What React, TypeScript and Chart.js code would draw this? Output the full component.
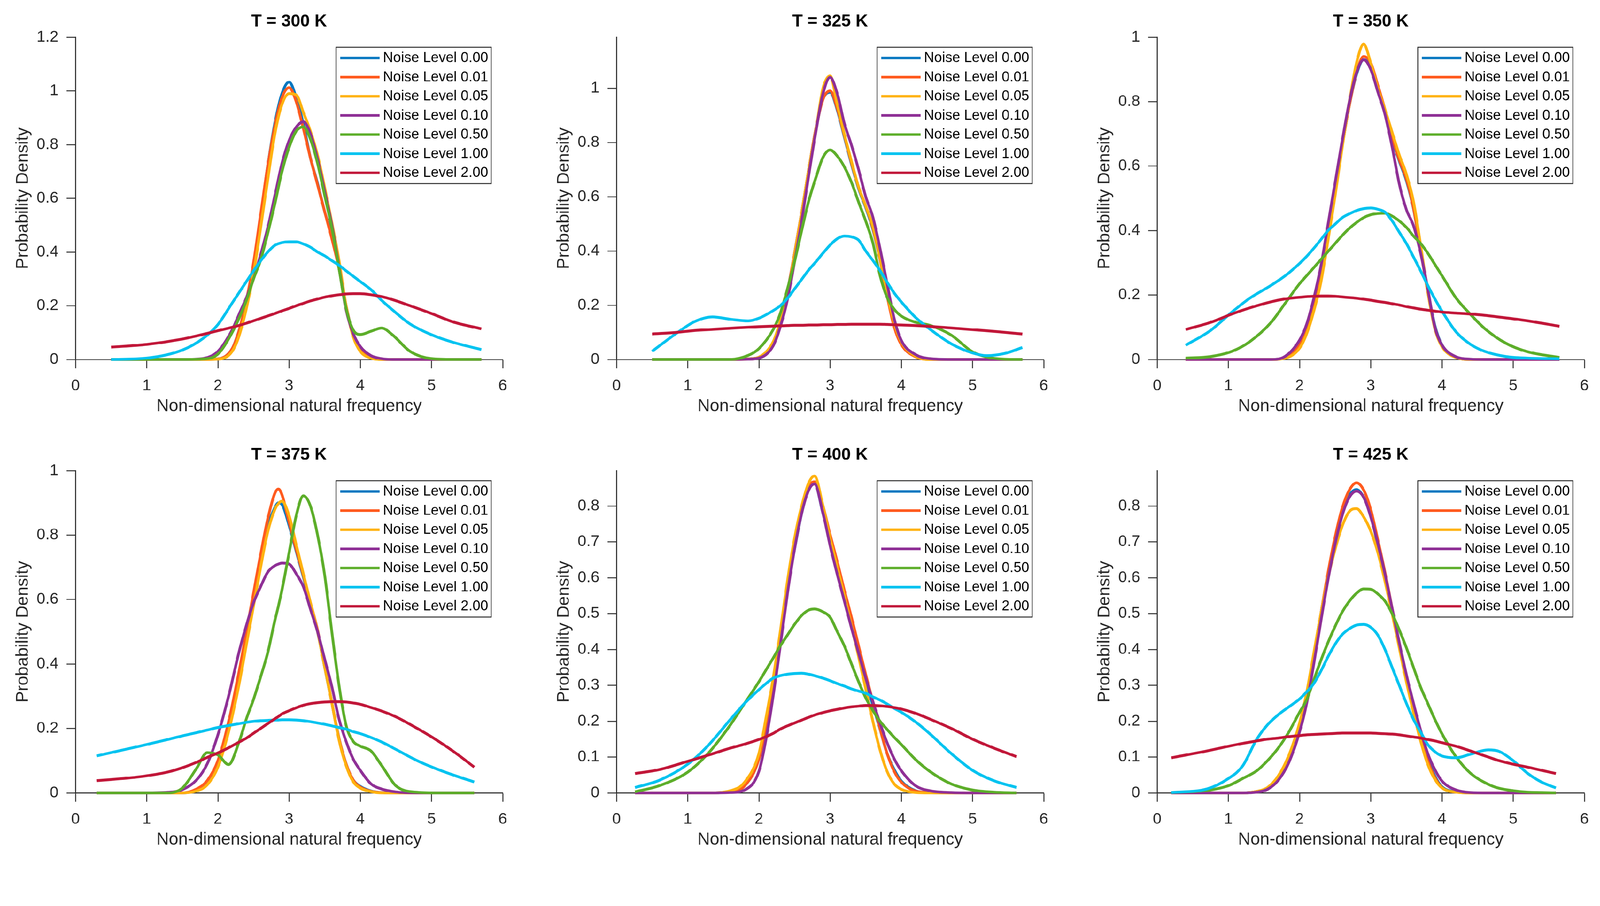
import React, { useEffect, useRef } from 'react';
import { Chart, registerables } from 'chart.js';

Chart.register(...registerables);

// ---------- labels / styles ----------
const seriesLabels = [
  'Noise Level 0.00',
  'Noise Level 0.01',
  'Noise Level 0.05',
  'Noise Level 0.10',
  'Noise Level 0.50',
  'Noise Level 1.00',
  'Noise Level 2.00',
];
const seriesColors = ['#0677C0', '#FF5B1F', '#FFB210', '#8F3096', '#5DAE2A', '#00C3F0', '#C11739'];
const panelTitles = ['T = 300 K', 'T = 325 K', 'T = 350 K', 'T = 375 K', 'T = 400 K', 'T = 425 K'];
const yMaxes = [1.2, 1.188, 1.0, 1.0, 0.899, 0.899];
const ySteps = [0.2, 0.2, 0.2, 0.2, 0.1, 0.1];
const xLabel = 'Non-dimensional natural frequency';
const yLabel = 'Probability Density';

// ---------- T = 300 K ----------
const x300 = [0.5, 1.0, 1.5, 1.8, 2.0, 2.2, 2.3, 2.4, 2.5, 2.6, 2.7, 2.8, 2.9, 3.0, 3.1, 3.2, 3.3, 3.4, 3.5, 3.6, 3.7, 3.8, 3.9, 4.0, 4.15, 4.3, 4.45, 4.7, 5.0, 5.3, 5.7];
const t300_n000 = [0, 0, 0, 0, 0.002, 0.04, 0.11, 0.21, 0.35, 0.53, 0.72, 0.88, 0.99, 1.033, 0.975, 0.876, 0.75, 0.655, 0.55, 0.46, 0.34, 0.2, 0.09, 0.035, 0.006, 0, 0, 0, 0, 0, 0];
const t300_n001 = [0, 0, 0, 0, 0.002, 0.04, 0.11, 0.22, 0.36, 0.54, 0.72, 0.87, 0.975, 1.012, 0.96, 0.86, 0.75, 0.65, 0.55, 0.45, 0.34, 0.2, 0.09, 0.038, 0.007, 0, 0, 0, 0, 0, 0];
const t300_n005 = [0, 0, 0, 0, 0.001, 0.03, 0.09, 0.19, 0.32, 0.49, 0.67, 0.84, 0.95, 0.99, 0.985, 0.92, 0.85, 0.76, 0.64, 0.51, 0.37, 0.2, 0.085, 0.03, 0.005, 0, 0, 0, 0, 0, 0];
const t300_n010 = [0, 0, 0, 0.004, 0.03, 0.11, 0.17, 0.23, 0.3, 0.39, 0.49, 0.61, 0.73, 0.815, 0.865, 0.885, 0.84, 0.745, 0.625, 0.5, 0.345, 0.185, 0.097, 0.048, 0.014, 0.003, 0, 0, 0, 0, 0];
const t300_n050 = [0, 0, 0, 0.002, 0.02, 0.1, 0.155, 0.22, 0.3, 0.37, 0.47, 0.58, 0.7, 0.79, 0.85, 0.866, 0.82, 0.73, 0.61, 0.49, 0.34, 0.19, 0.11, 0.093, 0.105, 0.117, 0.092, 0.03, 0.003, 0, 0];
const t300_n100 = [0, 0.005, 0.035, 0.08, 0.13, 0.21, 0.25, 0.29, 0.33, 0.367, 0.4, 0.425, 0.435, 0.438, 0.438, 0.43, 0.418, 0.4, 0.386, 0.368, 0.351, 0.33, 0.31, 0.29, 0.26, 0.22, 0.185, 0.132, 0.092, 0.064, 0.037];
const t300_n200 = [0.046, 0.056, 0.076, 0.094, 0.107, 0.12, 0.127, 0.135, 0.144, 0.153, 0.162, 0.171, 0.181, 0.19, 0.2, 0.209, 0.218, 0.225, 0.232, 0.237, 0.241, 0.244, 0.245, 0.245, 0.241, 0.234, 0.223, 0.2, 0.171, 0.14, 0.114];

// ---------- T = 325 K ----------
const x325 = [0.5, 0.85, 1.1, 1.35, 1.6, 1.85, 2.0, 2.2, 2.3, 2.4, 2.5, 2.6, 2.7, 2.8, 2.9, 3.0, 3.1, 3.2, 3.3, 3.4, 3.5, 3.6, 3.7, 3.8, 3.9, 4.0, 4.2, 4.4, 4.7, 5.0, 5.2, 5.45, 5.7];
const t325_n000 = [0, 0, 0, 0, 0, 0.002, 0.008, 0.062, 0.14, 0.25, 0.39, 0.54, 0.7, 0.85, 0.96, 0.985, 0.92, 0.82, 0.72, 0.63, 0.56, 0.48, 0.37, 0.24, 0.13, 0.065, 0.013, 0, 0, 0, 0, 0, 0];
const t325_n001 = [0, 0, 0, 0, 0, 0.002, 0.008, 0.06, 0.14, 0.25, 0.39, 0.54, 0.7, 0.85, 0.96, 0.99, 0.925, 0.825, 0.725, 0.635, 0.565, 0.485, 0.37, 0.235, 0.12, 0.055, 0.01, 0, 0, 0, 0, 0, 0];
const t325_n005 = [0, 0, 0, 0, 0, 0.001, 0.008, 0.065, 0.14, 0.24, 0.385, 0.537, 0.7, 0.845, 1.0, 1.045, 0.94, 0.83, 0.73, 0.635, 0.565, 0.49, 0.375, 0.244, 0.135, 0.065, 0.012, 0, 0, 0, 0, 0, 0];
const t325_n010 = [0, 0, 0, 0, 0, 0.001, 0.005, 0.05, 0.12, 0.22, 0.36, 0.51, 0.68, 0.84, 0.98, 1.04, 0.98, 0.87, 0.79, 0.7, 0.6, 0.525, 0.41, 0.28, 0.15, 0.07, 0.018, 0.003, 0, 0, 0, 0, 0];
const t325_n050 = [0, 0, 0, 0, 0, 0.015, 0.04, 0.11, 0.17, 0.26, 0.36, 0.475, 0.585, 0.67, 0.745, 0.772, 0.75, 0.71, 0.653, 0.58, 0.51, 0.43, 0.31, 0.229, 0.185, 0.16, 0.137, 0.126, 0.09, 0.028, 0.009, 0.001, 0];
const t325_n100 = [0.03, 0.098, 0.14, 0.157, 0.148, 0.142, 0.152, 0.18, 0.198, 0.225, 0.26, 0.295, 0.33, 0.36, 0.392, 0.422, 0.445, 0.455, 0.452, 0.44, 0.4, 0.365, 0.328, 0.285, 0.245, 0.212, 0.155, 0.112, 0.058, 0.024, 0.014, 0.022, 0.044];
const t325_n200 = [0.094, 0.1, 0.107, 0.111, 0.115, 0.119, 0.121, 0.123, 0.124, 0.125, 0.126, 0.126, 0.127, 0.127, 0.128, 0.128, 0.129, 0.129, 0.13, 0.13, 0.13, 0.13, 0.13, 0.129, 0.128, 0.127, 0.125, 0.122, 0.116, 0.11, 0.106, 0.1, 0.094];

// ---------- T = 350 K ----------
const x350 = [0.4, 0.75, 1.05, 1.3, 1.6, 1.8, 2.0, 2.1, 2.2, 2.3, 2.4, 2.5, 2.6, 2.7, 2.8, 2.9, 3.0, 3.1, 3.2, 3.3, 3.4, 3.5, 3.6, 3.7, 3.8, 3.9, 4.0, 4.2, 4.4, 4.6, 4.9, 5.2, 5.65];
const t350_n000 = [0, 0, 0, 0, 0, 0.007, 0.048, 0.095, 0.165, 0.255, 0.39, 0.525, 0.665, 0.79, 0.885, 0.93, 0.91, 0.845, 0.77, 0.685, 0.616, 0.555, 0.468, 0.34, 0.215, 0.105, 0.045, 0.007, 0, 0, 0, 0, 0];
const t350_n001 = [0, 0, 0, 0, 0, 0.007, 0.048, 0.095, 0.165, 0.255, 0.39, 0.525, 0.665, 0.79, 0.89, 0.94, 0.92, 0.85, 0.775, 0.69, 0.62, 0.56, 0.47, 0.34, 0.21, 0.1, 0.042, 0.006, 0, 0, 0, 0, 0];
const t350_n005 = [0, 0, 0, 0, 0, 0.004, 0.035, 0.08, 0.15, 0.24, 0.37, 0.51, 0.66, 0.8, 0.92, 0.978, 0.92, 0.84, 0.775, 0.705, 0.635, 0.575, 0.49, 0.355, 0.21, 0.095, 0.04, 0.006, 0, 0, 0, 0, 0];
const t350_n010 = [0, 0, 0, 0, 0, 0.01, 0.06, 0.11, 0.19, 0.29, 0.42, 0.55, 0.68, 0.8, 0.89, 0.93, 0.9, 0.83, 0.76, 0.66, 0.545, 0.465, 0.415, 0.33, 0.22, 0.1, 0.045, 0.008, 0.001, 0, 0, 0, 0];
const t350_n050 = [0.004, 0.009, 0.025, 0.055, 0.115, 0.175, 0.235, 0.26, 0.285, 0.31, 0.335, 0.36, 0.385, 0.407, 0.425, 0.44, 0.449, 0.453, 0.454, 0.445, 0.43, 0.41, 0.383, 0.36, 0.33, 0.295, 0.26, 0.19, 0.14, 0.096, 0.05, 0.024, 0.006];
const t350_n100 = [0.044, 0.09, 0.147, 0.19, 0.23, 0.26, 0.298, 0.32, 0.345, 0.372, 0.4, 0.42, 0.44, 0.452, 0.462, 0.468, 0.47, 0.466, 0.457, 0.43, 0.395, 0.36, 0.318, 0.275, 0.23, 0.188, 0.15, 0.085, 0.047, 0.025, 0.009, 0.004, 0.002];
const t350_n200 = [0.093, 0.115, 0.141, 0.16, 0.179, 0.188, 0.193, 0.195, 0.196, 0.197, 0.197, 0.196, 0.194, 0.192, 0.19, 0.187, 0.184, 0.18, 0.177, 0.173, 0.169, 0.164, 0.16, 0.156, 0.153, 0.15, 0.147, 0.144, 0.141, 0.137, 0.129, 0.12, 0.103];

// ---------- T = 375 K ----------
const x375 = [0.3, 0.9, 1.3, 1.5, 1.7, 1.85, 2.0, 2.15, 2.3, 2.4, 2.5, 2.6, 2.7, 2.8, 2.85, 2.9, 3.0, 3.1, 3.2, 3.3, 3.4, 3.5, 3.6, 3.7, 3.8, 3.9, 4.0, 4.15, 4.3, 4.5, 4.8, 5.1, 5.35, 5.6];
const t375_n000 = [0, 0, 0, 0, 0.01, 0.034, 0.09, 0.22, 0.37, 0.485, 0.6, 0.72, 0.825, 0.885, 0.9, 0.895, 0.83, 0.75, 0.67, 0.585, 0.5, 0.39, 0.28, 0.17, 0.09, 0.04, 0.02, 0.006, 0.001, 0, 0, 0, 0, 0];
const t375_n001 = [0, 0, 0, 0, 0.012, 0.038, 0.1, 0.22, 0.38, 0.5, 0.62, 0.74, 0.85, 0.93, 0.943, 0.925, 0.84, 0.755, 0.675, 0.59, 0.505, 0.395, 0.28, 0.17, 0.09, 0.04, 0.018, 0.005, 0.001, 0, 0, 0, 0, 0];
const t375_n005 = [0, 0, 0, 0, 0.006, 0.025, 0.08, 0.19, 0.34, 0.46, 0.58, 0.7, 0.81, 0.88, 0.898, 0.905, 0.86, 0.77, 0.68, 0.59, 0.5, 0.39, 0.28, 0.165, 0.085, 0.035, 0.015, 0.004, 0, 0, 0, 0, 0, 0];
const t375_n010 = [0, 0, 0.002, 0.01, 0.04, 0.09, 0.18, 0.3, 0.44, 0.52, 0.59, 0.64, 0.685, 0.705, 0.71, 0.713, 0.71, 0.68, 0.64, 0.57, 0.5, 0.415, 0.33, 0.23, 0.16, 0.105, 0.07, 0.028, 0.012, 0.003, 0, 0, 0, 0];
const t375_n050 = [0, 0, 0, 0.015, 0.076, 0.125, 0.118, 0.088, 0.16, 0.23, 0.29, 0.36, 0.435, 0.535, 0.58, 0.63, 0.745, 0.86, 0.922, 0.89, 0.8, 0.675, 0.5, 0.335, 0.21, 0.16, 0.145, 0.13, 0.085, 0.022, 0.002, 0, 0, 0];
const t375_n100 = [0.115, 0.145, 0.166, 0.177, 0.187, 0.195, 0.203, 0.209, 0.215, 0.219, 0.222, 0.224, 0.225, 0.226, 0.226, 0.227, 0.227, 0.226, 0.224, 0.221, 0.217, 0.213, 0.208, 0.203, 0.198, 0.19, 0.184, 0.172, 0.158, 0.135, 0.1, 0.072, 0.052, 0.034];
const t375_n200 = [0.038, 0.05, 0.065, 0.078, 0.095, 0.11, 0.124, 0.14, 0.158, 0.17, 0.185, 0.2, 0.215, 0.23, 0.237, 0.245, 0.255, 0.264, 0.272, 0.277, 0.28, 0.282, 0.283, 0.283, 0.282, 0.279, 0.275, 0.265, 0.254, 0.236, 0.2, 0.16, 0.122, 0.08];

// ---------- T = 400 K ----------
const x400 = [0.26, 0.6, 1.0, 1.3, 1.6, 1.8, 2.0, 2.1, 2.2, 2.3, 2.4, 2.5, 2.6, 2.7, 2.78, 2.9, 3.0, 3.1, 3.2, 3.3, 3.4, 3.5, 3.6, 3.7, 3.8, 3.9, 4.0, 4.2, 4.4, 4.7, 5.0, 5.3, 5.62];
const t400_n000 = [0, 0, 0, 0, 0.004, 0.02, 0.095, 0.19, 0.3, 0.43, 0.575, 0.68, 0.78, 0.85, 0.864, 0.78, 0.71, 0.635, 0.55, 0.475, 0.4, 0.315, 0.245, 0.179, 0.11, 0.065, 0.033, 0.006, 0.001, 0, 0, 0, 0];
const t400_n001 = [0, 0, 0, 0, 0.004, 0.02, 0.095, 0.19, 0.3, 0.43, 0.575, 0.685, 0.785, 0.855, 0.868, 0.8, 0.72, 0.645, 0.565, 0.49, 0.41, 0.33, 0.255, 0.18, 0.11, 0.06, 0.03, 0.005, 0.001, 0, 0, 0, 0];
const t400_n005 = [0, 0, 0, 0, 0.006, 0.03, 0.11, 0.21, 0.32, 0.45, 0.59, 0.71, 0.8, 0.865, 0.884, 0.8, 0.71, 0.63, 0.55, 0.465, 0.38, 0.29, 0.2, 0.12, 0.06, 0.025, 0.01, 0.001, 0, 0, 0, 0, 0];
const t400_n010 = [0, 0, 0, 0, 0.001, 0.008, 0.06, 0.15, 0.27, 0.41, 0.555, 0.68, 0.78, 0.845, 0.862, 0.78, 0.69, 0.61, 0.535, 0.46, 0.39, 0.32, 0.255, 0.195, 0.14, 0.095, 0.062, 0.02, 0.006, 0.001, 0, 0, 0];
const t400_n050 = [0.003, 0.02, 0.058, 0.113, 0.19, 0.25, 0.31, 0.343, 0.376, 0.41, 0.44, 0.47, 0.495, 0.51, 0.513, 0.505, 0.49, 0.45, 0.41, 0.36, 0.31, 0.265, 0.23, 0.2, 0.177, 0.155, 0.135, 0.093, 0.06, 0.025, 0.008, 0.002, 0];
const t400_n100 = [0.015, 0.035, 0.08, 0.135, 0.205, 0.25, 0.288, 0.305, 0.32, 0.327, 0.331, 0.333, 0.334, 0.331, 0.327, 0.32, 0.313, 0.305, 0.298, 0.29, 0.284, 0.278, 0.268, 0.259, 0.248, 0.236, 0.225, 0.198, 0.165, 0.11, 0.063, 0.034, 0.015];
const t400_n200 = [0.054, 0.065, 0.088, 0.106, 0.125, 0.136, 0.149, 0.157, 0.166, 0.178, 0.187, 0.195, 0.203, 0.211, 0.217, 0.224, 0.229, 0.233, 0.237, 0.24, 0.242, 0.244, 0.244, 0.243, 0.241, 0.238, 0.234, 0.222, 0.206, 0.18, 0.15, 0.125, 0.101];

// ---------- T = 425 K ----------
const x425 = [0.2, 0.7, 1.0, 1.2, 1.4, 1.55, 1.7, 1.85, 2.0, 2.1, 2.2, 2.3, 2.4, 2.5, 2.6, 2.7, 2.8, 2.9, 3.0, 3.1, 3.2, 3.3, 3.4, 3.5, 3.6, 3.7, 3.8, 3.9, 4.0, 4.2, 4.4, 4.65, 4.8, 5.0, 5.2, 5.4, 5.6];
const t425_n000 = [0, 0, 0, 0, 0.004, 0.014, 0.045, 0.1, 0.185, 0.275, 0.385, 0.5, 0.61, 0.705, 0.78, 0.83, 0.846, 0.825, 0.775, 0.69, 0.605, 0.51, 0.415, 0.32, 0.236, 0.16, 0.095, 0.047, 0.017, 0.003, 0, 0, 0, 0, 0, 0, 0];
const t425_n001 = [0, 0, 0, 0, 0.004, 0.014, 0.045, 0.1, 0.185, 0.275, 0.385, 0.5, 0.615, 0.715, 0.795, 0.845, 0.865, 0.845, 0.79, 0.705, 0.615, 0.515, 0.415, 0.32, 0.235, 0.158, 0.09, 0.043, 0.015, 0.002, 0, 0, 0, 0, 0, 0, 0];
const t425_n005 = [0, 0, 0, 0, 0.004, 0.015, 0.047, 0.105, 0.195, 0.28, 0.39, 0.5, 0.6, 0.68, 0.745, 0.785, 0.793, 0.77, 0.73, 0.67, 0.59, 0.5, 0.405, 0.31, 0.225, 0.145, 0.08, 0.038, 0.014, 0.002, 0, 0, 0, 0, 0, 0, 0];
const t425_n010 = [0, 0, 0, 0, 0.002, 0.01, 0.035, 0.085, 0.17, 0.25, 0.36, 0.48, 0.595, 0.695, 0.775, 0.825, 0.842, 0.825, 0.77, 0.695, 0.61, 0.515, 0.42, 0.33, 0.25, 0.175, 0.11, 0.065, 0.033, 0.008, 0.001, 0, 0, 0, 0, 0, 0];
const t425_n050 = [0.001, 0.007, 0.02, 0.04, 0.062, 0.09, 0.125, 0.17, 0.225, 0.26, 0.315, 0.37, 0.42, 0.465, 0.505, 0.535, 0.557, 0.569, 0.568, 0.555, 0.535, 0.5, 0.455, 0.405, 0.35, 0.295, 0.25, 0.205, 0.165, 0.1, 0.055, 0.024, 0.013, 0.006, 0.002, 0.001, 0];
const t425_n100 = [0.001, 0.011, 0.04, 0.075, 0.15, 0.19, 0.218, 0.24, 0.262, 0.282, 0.305, 0.34, 0.38, 0.415, 0.442, 0.458, 0.468, 0.47, 0.462, 0.44, 0.4, 0.35, 0.3, 0.25, 0.205, 0.17, 0.135, 0.115, 0.103, 0.098, 0.108, 0.12, 0.116, 0.09, 0.055, 0.03, 0.014];
const t425_n200 = [0.098, 0.117, 0.13, 0.138, 0.145, 0.15, 0.153, 0.157, 0.16, 0.162, 0.163, 0.164, 0.165, 0.166, 0.167, 0.167, 0.167, 0.167, 0.167, 0.166, 0.165, 0.164, 0.162, 0.159, 0.156, 0.153, 0.149, 0.145, 0.14, 0.13, 0.117, 0.1, 0.09, 0.08, 0.072, 0.063, 0.054];

const panelX = [x300, x325, x350, x375, x400, x425];
const panelY = [
  [t300_n000, t300_n001, t300_n005, t300_n010, t300_n050, t300_n100, t300_n200],
  [t325_n000, t325_n001, t325_n005, t325_n010, t325_n050, t325_n100, t325_n200],
  [t350_n000, t350_n001, t350_n005, t350_n010, t350_n050, t350_n100, t350_n200],
  [t375_n000, t375_n001, t375_n005, t375_n010, t375_n050, t375_n100, t375_n200],
  [t400_n000, t400_n001, t400_n005, t400_n010, t400_n050, t400_n100, t400_n200],
  [t425_n000, t425_n001, t425_n005, t425_n010, t425_n050, t425_n100, t425_n200],
];

// ---------- layout (design pixels, 4303 x 2320) ----------
const PAGE_W = 4303;
const PAGE_H = 2320;
const FONT = "'Liberation Sans', Arial, Helvetica, sans-serif";
const AX = '#262626';
const PLOT_W = 1149;
const PLOT_H = 867;
const LEFT_M = 200;
const TOP_M = 96;
const RIGHT_M = 40;
const BOTTOM_M = 180;
const TICK_LEN = 24;
const CW = PLOT_W + LEFT_M + RIGHT_M;
const CH = PLOT_H + TOP_M + BOTTOM_M;
const colLefts = [203, 1658, 3112];
const rowTops = [100, 1266];

function pageScale() {
  const w = typeof window !== 'undefined' ? window.innerWidth : PAGE_W;
  const s = w / PAGE_W;
  return s > 0 && isFinite(s) ? s : 1;
}

const insideLegend = {
  id: 'insideLegend',
  afterDatasetsDraw(chart: any) {
    const { ctx, chartArea } = chart;
    const ds = chart.data.datasets;
    ctx.save();
    ctx.font = `38px ${FONT}`;
    let tw = 0;
    ds.forEach((d: any) => {
      tw = Math.max(tw, ctx.measureText(d.label).width);
    });
    const lineStart = 11;
    const lineLen = 106;
    const gap = 9;
    const rowH = 51.5;
    const padY = 29;
    const w = lineStart + lineLen + gap + tw + 8;
    const h = padY * 2 + rowH * (ds.length - 1);
    const right = chartArea.right - 31;
    const top = chartArea.top + 27;
    const left = right - w;
    ctx.fillStyle = '#ffffff';
    ctx.fillRect(left, top, w, h);
    ctx.lineWidth = 2.5;
    ctx.strokeStyle = AX;
    ctx.strokeRect(left, top, w, h);
    ds.forEach((d: any, i: number) => {
      const cy = top + padY + i * rowH;
      ctx.strokeStyle = d.borderColor;
      ctx.lineWidth = 7;
      ctx.lineCap = 'butt';
      ctx.beginPath();
      ctx.moveTo(left + lineStart, cy);
      ctx.lineTo(left + lineStart + lineLen, cy);
      ctx.stroke();
      ctx.fillStyle = '#000000';
      ctx.textAlign = 'left';
      ctx.textBaseline = 'middle';
      ctx.fillText(d.label, left + lineStart + lineLen + gap, cy + 1);
    });
    ctx.restore();
  },
};

const fmt = (v: any) => String(Math.round(Number(v) * 100) / 100);

function Panel({ index, ratio }: { index: number; ratio: number }) {
  const ref = useRef<HTMLCanvasElement>(null);
  useEffect(() => {
    const xs = panelX[index];
    const datasets = panelY[index].map((ys, i) => ({
      label: seriesLabels[i],
      data: xs.map((x, j) => ({ x, y: ys[j] })),
      borderColor: seriesColors[i],
      backgroundColor: seriesColors[i],
      borderWidth: 7.5,
      pointRadius: 0,
      pointHoverRadius: 0,
      cubicInterpolationMode: 'monotone' as const,
      fill: false,
      clip: false as any,
      order: seriesLabels.length - 1 - i,
    }));
    const gridOpts = {
      display: true,
      drawOnChartArea: false,
      drawTicks: true,
      tickLength: TICK_LEN,
      tickColor: AX,
      tickWidth: 2.5,
    };
    const chart = new Chart(ref.current as HTMLCanvasElement, {
      type: 'line',
      data: { datasets },
      options: {
        responsive: false,
        animation: false,
        devicePixelRatio: ratio,
        events: [],
        layout: { padding: { left: 0, right: RIGHT_M, top: 0, bottom: 0 } },
        plugins: {
          legend: { display: false },
          tooltip: { enabled: false },
          title: {
            display: true,
            text: panelTitles[index],
            fullSize: false,
            color: '#000000',
            font: { family: FONT, size: 46, weight: 'bold' },
            padding: { top: 27, bottom: 13.8 },
          },
        },
        scales: {
          x: {
            type: 'linear',
            min: 0,
            max: 6,
            afterFit: (s: any) => {
              s.height = BOTTOM_M;
            },
            ticks: {
              stepSize: 1,
              autoSkip: false,
              maxRotation: 0,
              color: AX,
              padding: 22,
              font: { family: FONT, size: 42 },
              callback: fmt,
            },
            grid: gridOpts,
            border: { display: true, color: AX, width: 2.7 },
            title: {
              display: true,
              text: xLabel,
              color: AX,
              font: { family: FONT, size: 46 },
              padding: { top: 0, bottom: 26 },
            },
          },
          y: {
            type: 'linear',
            min: 0,
            max: yMaxes[index],
            afterFit: (s: any) => {
              s.width = LEFT_M;
            },
            ticks: {
              stepSize: ySteps[index],
              includeBounds: false,
              autoSkip: false,
              color: AX,
              padding: 22,
              font: { family: FONT, size: 42 },
              callback: fmt,
            },
            grid: gridOpts,
            border: { display: true, color: AX, width: 2.7 },
            title: {
              display: true,
              text: yLabel,
              color: AX,
              font: { family: FONT, size: 46 },
              padding: { top: 32, bottom: 0 },
            },
          },
        },
      } as any,
      plugins: [insideLegend],
    });
    return () => chart.destroy();
  }, [index, ratio]);
  const col = index % 3;
  const row = Math.floor(index / 3);
  return (
    <canvas
      ref={ref}
      width={CW}
      height={CH}
      style={{
        position: 'absolute',
        left: colLefts[col] - LEFT_M,
        top: rowTops[row] - TOP_M,
        width: CW,
        height: CH,
      }}
    />
  );
}

export default function App() {
  const s = pageScale();
  const dpr = (typeof window !== 'undefined' && window.devicePixelRatio) || 1;
  const ratio = Math.max(1, dpr * s);
  return (
    <div
      style={{
        position: 'fixed',
        left: 0,
        top: 0,
        width: PAGE_W * s,
        height: PAGE_H * s,
        overflow: 'hidden',
        background: '#ffffff',
      }}
    >
      <div
        style={{
          position: 'absolute',
          left: 0,
          top: 0,
          width: PAGE_W,
          height: PAGE_H,
          background: '#ffffff',
          transform: `scale(${s})`,
          transformOrigin: '0 0',
        }}
      >
        {panelTitles.map((_, i) => (
          <Panel key={i} index={i} ratio={ratio} />
        ))}
      </div>
    </div>
  );
}
